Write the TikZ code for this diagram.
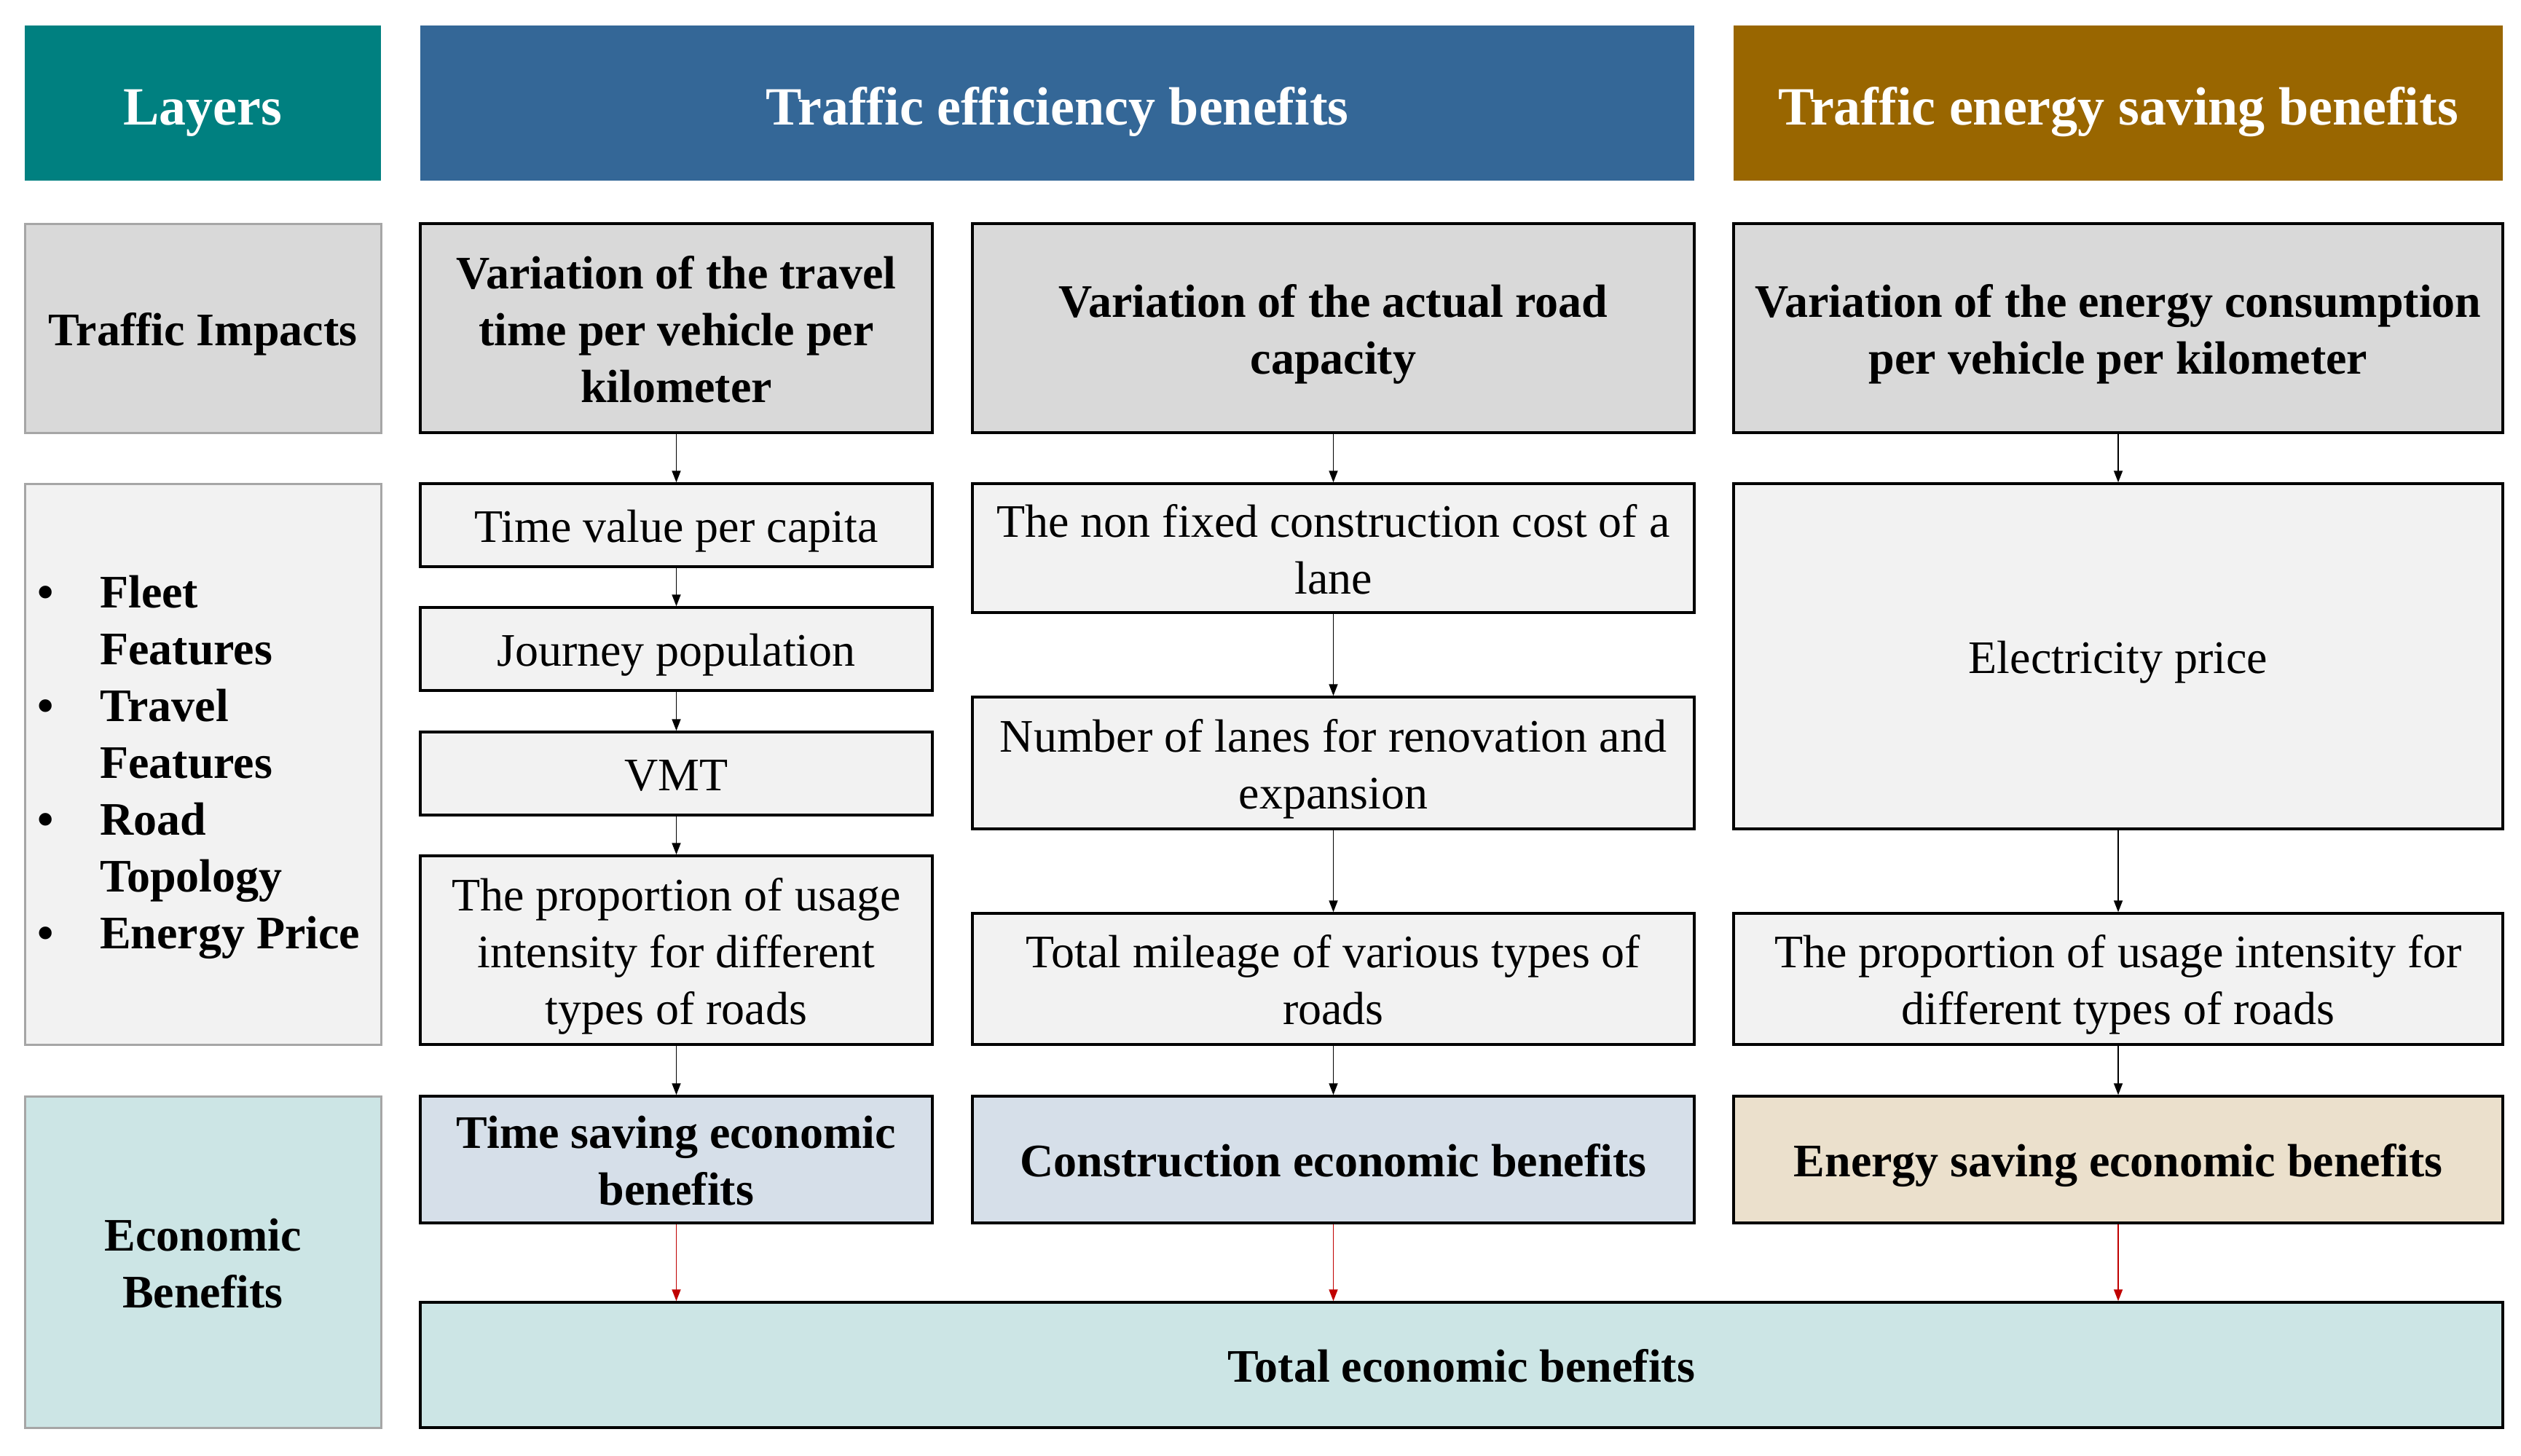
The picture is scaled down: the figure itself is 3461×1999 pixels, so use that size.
\documentclass[tikz,border=0pt]{standalone}
\usepackage{fontspec}
\setmainfont{Liberation Serif}
\usetikzlibrary{arrows.meta}
\definecolor{cteal}{HTML}{008080}
\definecolor{cblue}{HTML}{346797}
\definecolor{cbrown}{HTML}{996600}
\definecolor{cgrayA}{HTML}{D9D9D9}
\definecolor{cgrayB}{HTML}{F2F2F2}
\definecolor{cbord}{HTML}{A6A6A6}
\definecolor{clblue}{HTML}{D6DFE9}
\definecolor{cbeige}{HTML}{EBE0CC}
\definecolor{cmint}{HTML}{CCE5E5}
\definecolor{cred}{HTML}{C00000}
\newcommand\boxtext[1]{\raisebox{-8pt}[\height][\depth]{\begin{tabular}{@{}c@{}}#1\end{tabular}}}
\newcommand\headtext[1]{\raisebox{-12pt}[\height][\depth]{\begin{tabular}{@{}c@{}}#1\end{tabular}}}
\begin{document}
\begin{tikzpicture}[x=1pt,y=-1pt,
  head/.style={rectangle, draw=none, text=white, inner sep=0pt, font={\fontsize{74}{88}\selectfont\bfseries}},
  lbox/.style={rectangle, draw=cbord, line width=3pt, inner sep=0pt, font={\fontsize{64}{78}\selectfont\bfseries}},
  tbox/.style={rectangle, draw=black, line width=3.5pt, inner sep=0pt, fill=cgrayA, font={\fontsize{64}{78}\selectfont\bfseries}},
  pbox/.style={rectangle, draw=black, line width=3.5pt, inner sep=0pt, fill=cgrayB, font={\fontsize{64}{78}\selectfont}},
  ebox/.style={rectangle, draw=black, line width=3.5pt, inner sep=0pt, font={\fontsize{64}{78}\selectfont\bfseries}},
  arr/.style={-{Triangle[length=16pt,width=12pt]}, line width=1.8pt, draw=black},
  rarr/.style={-{Triangle[length=16pt,width=12pt]}, line width=1.8pt, draw=cred}
]
\fill[white] (0,0) rectangle (3461,1999);
\useasboundingbox (0,0) rectangle (3461,1999);

% headers
\node[head, fill=cteal, minimum width=489pt, minimum height=213pt] (hl) at (278.5,141.5) {\headtext{Layers}};
\node[head, fill=cblue, minimum width=1749pt, minimum height=213pt] (hb) at (1451.5,141.5) {\headtext{Traffic efficiency benefits}};
\node[head, fill=cbrown, minimum width=1056pt, minimum height=213pt] (hr) at (2908,141.5) {\headtext{Traffic energy saving benefits}};

% left column
\node[lbox, fill=cgrayA, minimum width=489pt, minimum height=287pt] (lti) at (278.5,450.5) {\boxtext{Traffic Impacts}};
\node[lbox, fill=cgrayB, minimum width=489pt, minimum height=770pt] (lff) at (278.5,1049) {};
\node[anchor=west, inner sep=0pt, font={\fontsize{64}{78}\selectfont\bfseries}] (lst) at (51,1053) {%
\begin{tabular}{@{}p{86pt}@{}l@{}}
\textbullet & Fleet\\
 & Features\\
\textbullet & Travel\\
 & Features\\
\textbullet & Road\\
 & Topology\\
\textbullet & Energy Price
\end{tabular}};
\node[lbox, fill=cmint, minimum width=489pt, minimum height=455pt] (leb) at (278.5,1732.5) {\boxtext{Economic\\Benefits}};

% row 1
\node[tbox, minimum width=703pt, minimum height=287pt] (a1) at (928.5,450.5) {\boxtext{Variation of the travel\\time per vehicle per\\kilometer}};
\node[tbox, minimum width=991pt, minimum height=287pt] (b1) at (1830.5,450.5) {\boxtext{Variation of the actual road\\capacity}};
\node[tbox, minimum width=1056pt, minimum height=287pt] (c1) at (2908,450.5) {\boxtext{Variation of the energy consumption\\per vehicle per kilometer}};

% column 1
\node[pbox, minimum width=703pt, minimum height=114pt] (a2) at (928.5,721) {\boxtext{Time value per capita}};
\node[pbox, minimum width=703pt, minimum height=114pt] (a3) at (928.5,891) {\boxtext{Journey population}};
\node[pbox, minimum width=703pt, minimum height=114pt] (a4) at (928.5,1062) {\boxtext{VMT}};
\node[pbox, minimum width=703pt, minimum height=259pt] (a5) at (928.5,1304.5) {\boxtext{The proportion of usage\\intensity for different\\types of roads}};

% column 2
\node[pbox, minimum width=991pt, minimum height=177pt] (b2) at (1830.5,752.5) {\boxtext{The non fixed construction cost of a\\lane}};
\node[pbox, minimum width=991pt, minimum height=181pt] (b3) at (1830.5,1047.5) {\boxtext{Number of lanes for renovation and\\expansion}};
\node[pbox, minimum width=991pt, minimum height=180pt] (b4) at (1830.5,1344) {\boxtext{Total mileage of various types of\\roads}};

% column 3
\node[pbox, minimum width=1056pt, minimum height=474pt] (c2) at (2908,901) {\boxtext{Electricity price}};
\node[pbox, minimum width=1056pt, minimum height=180pt] (c3) at (2908,1344) {\boxtext{The proportion of usage intensity for\\different types of roads}};

% economic row
\node[ebox, fill=clblue, minimum width=703pt, minimum height=174pt] (a6) at (928.5,1592) {\boxtext{Time saving economic\\benefits}};
\node[ebox, fill=clblue, minimum width=991pt, minimum height=174pt] (b6) at (1830.5,1592) {\boxtext{Construction economic benefits}};
\node[ebox, fill=cbeige, minimum width=1056pt, minimum height=174pt] (c6) at (2908,1592) {\boxtext{Energy saving economic benefits}};

% total
\node[ebox, fill=cmint, minimum width=2859pt, minimum height=172pt] (tot) at (2006.5,1874) {\boxtext{Total economic benefits}};
\coordinate (ta) at (tot.north -| a6.south);
\coordinate (tb) at (tot.north -| b6.south);
\coordinate (tc) at (tot.north -| c6.south);

% arrows
\draw[arr] (a1) -- (a2);
\draw[arr] (a2) -- (a3);
\draw[arr] (a3) -- (a4);
\draw[arr] (a4) -- (a5);
\draw[arr] (a5) -- (a6);
\draw[arr] (b1) -- (b2);
\draw[arr] (b2) -- (b3);
\draw[arr] (b3) -- (b4);
\draw[arr] (b4) -- (b6);
\draw[arr] (c1) -- (c2);
\draw[arr] (c2) -- (c3);
\draw[arr] (c3) -- (c6);
\draw[rarr] (a6) -- (ta);
\draw[rarr] (b6) -- (tb);
\draw[rarr] (c6) -- (tc);
\end{tikzpicture}
\end{document}
